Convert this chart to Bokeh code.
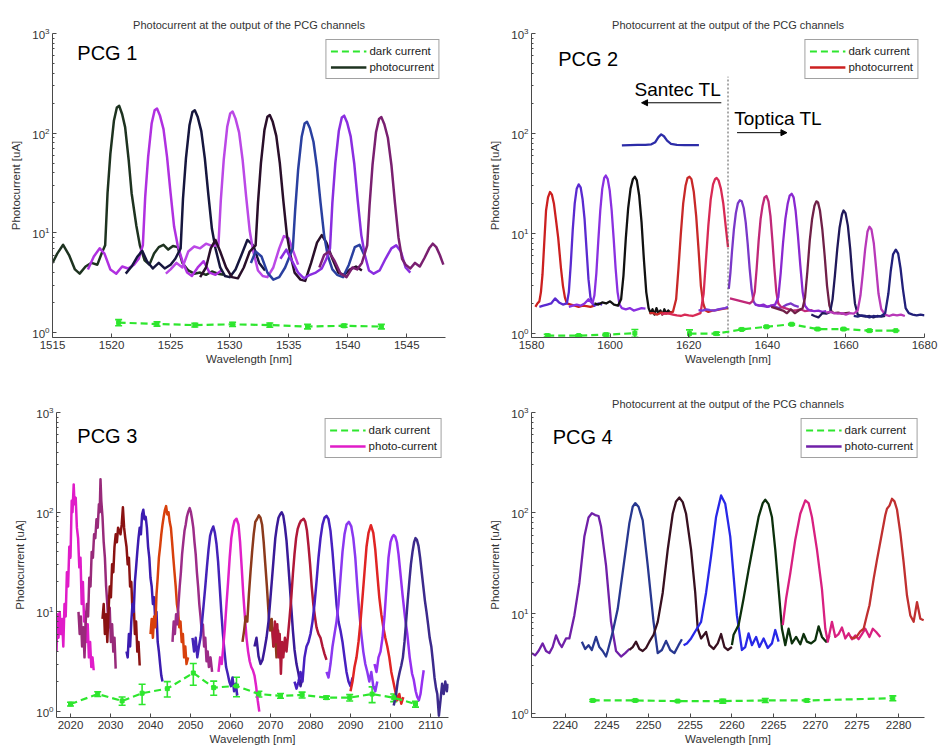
import numpy as np
from bokeh.plotting import figure
from bokeh.layouts import column, row
from bokeh.models import (ColumnDataSource, FixedTicker, Legend, LegendItem,
                          Whisker, TeeHead, Arrow, NormalHead, Label)
from bokeh.embed import file_html
from bokeh.resources import INLINE

# ---------------------------------------------------------------- data
# Each trace: list of (wavelength [nm], photocurrent [uA]) samples.

# PCG 1 (1515-1548 nm)
pcg1_traces = [
    [(1515.0,5.0),(1515.4,6.2),(1515.9,7.6),(1516.4,6.0),(1516.9,4.3),(1517.3,3.9),(1517.8,4.6),(1518.3,5.0),
     (1518.8,4.8),(1519.2,6.4),(1519.46,7.5),(1519.66,25),(1519.9,62),(1520.2,133),(1520.45,181),(1520.65,188),
     (1520.9,155),(1521.15,115),(1521.45,54),(1521.7,25),(1522.1,11.8),(1522.4,7.5),(1522.8,5.3),(1523.2,4.8),
     (1523.6,6.2),(1524.0,7.2),(1524.4,7.6),(1524.8,6.8),(1525.2,7.4),(1525.6,7.2),(1526.0,5.0),(1526.5,4.2),
     (1527.0,3.9),(1527.5,4.0),(1528.0,3.8),(1528.5,4.1),(1529.0,3.9),(1529.5,3.8)],
    [(1518.0,4.3),(1518.5,5.8),(1519.0,7.0),(1519.4,6.2),(1519.9,4.3),(1520.4,3.9),(1520.9,4.6),(1521.4,4.4),
     (1521.9,4.8),(1522.3,5.5),(1522.65,7.5),(1522.85,23),(1523.1,58),(1523.4,126),(1523.65,170),(1523.85,177),
     (1524.1,150),(1524.4,110),(1524.7,58),(1525.0,25),(1525.3,11.5),(1525.6,7.5),(1526.0,5.2),(1526.4,4.0),
     (1526.8,3.7),(1527.3,4.5),(1527.8,5.2),(1528.3,4.0),(1528.8,3.8),(1529.3,4.2)],
    [(1521.2,3.9),(1521.7,4.6),(1522.2,5.8),(1522.6,6.6),(1523.0,5.2),(1523.5,4.4),(1524.0,5.0),(1524.5,4.4),
     (1525.0,4.8),(1525.4,5.5),(1525.85,7.0),(1526.05,22),(1526.3,56),(1526.6,120),(1526.85,163),(1527.05,170),
     (1527.3,145),(1527.6,105),(1527.9,56),(1528.2,24),(1528.5,11),(1528.8,7.0),(1529.2,4.5),(1529.6,3.7),
     (1530.0,3.6),(1530.5,4.3),(1531.0,6.0),(1531.5,8.5),(1532.0,7.5),(1532.5,5.0),(1533.0,4.2)],
    [(1524.6,3.9),(1525.0,4.3),(1525.5,5.0),(1526.0,4.5),(1526.5,6.5),(1527.0,7.3),(1527.5,7.0),(1528.0,7.8),
     (1528.5,7.4),(1529.05,7.5),(1529.25,21),(1529.5,54),(1529.8,117),(1530.05,158),(1530.25,165),(1530.5,140),
     (1530.8,102),(1531.1,54),(1531.4,23),(1531.7,10.5),(1532.0,6.5),(1532.4,4.2),(1532.8,3.7),(1533.2,3.6),
     (1533.7,4.5),(1534.2,7.0),(1534.6,9.3),(1535.0,8.8),(1535.4,6.5),(1535.8,4.8)],
    [(1527.5,3.6),(1528.0,4.5),(1528.4,7.0),(1528.8,8.5),(1529.2,6.5),(1529.7,4.5),(1530.2,3.6),(1530.7,3.5),
     (1531.2,4.5),(1531.7,6.5),(1532.2,7.5),(1532.4,20),(1532.65,50),(1532.95,108),(1533.2,146),(1533.4,152),
     (1533.65,130),(1533.95,94),(1534.25,50),(1534.55,21),(1534.85,9.5),(1535.15,6.0),(1535.5,4.0),(1536.0,3.4),
     (1536.4,3.3),(1536.9,5.0),(1537.4,8.0),(1537.8,9.5),(1538.2,8.0),(1538.7,5.5),(1539.2,4.0),(1539.7,3.8),
     (1540.2,4.3),(1540.7,4.6),(1541.2,4.2)],
    [(1531.8,5.0),(1532.2,6.5),(1532.7,5.8),(1533.2,4.0),(1533.7,3.4),(1534.2,3.6),(1534.7,4.5),(1535.0,5.5),
     (1535.35,7.0),(1535.55,17),(1535.8,43),(1536.1,92),(1536.35,125),(1536.55,130),(1536.8,112),(1537.1,82),
     (1537.4,45),(1537.7,20),(1538.0,9.5),(1538.3,6.0),(1538.7,4.3),(1539.1,3.8),(1539.6,3.6),(1540.1,4.8),
     (1540.6,7.2),(1541.0,7.6),(1541.4,6.0)],
    [(1534.3,5.5),(1534.8,6.8),(1535.3,5.2),(1535.8,4.0),(1536.3,3.5),(1536.8,3.8),(1537.3,4.0),(1537.8,4.4),
     (1538.2,5.5),(1538.5,7.0),(1538.7,20),(1538.95,50),(1539.25,106),(1539.5,144),(1539.7,150),(1539.95,128),
     (1540.25,93),(1540.55,50),(1540.85,21),(1541.15,9.5),(1541.45,6.0),(1541.8,4.2),(1542.2,3.9),(1542.7,4.2),
     (1543.2,5.5),(1543.7,7.0),(1544.1,7.5),(1544.5,6.5),(1544.9,4.5),(1545.3,4.0)],
    [(1537.6,4.5),(1538.0,6.0),(1538.4,6.5),(1538.9,5.2),(1539.4,3.9),(1539.9,3.6),(1540.4,4.5),(1540.8,4.3),
     (1541.2,5.0),(1541.65,7.5),(1541.85,19),(1542.1,48),(1542.4,103),(1542.65,139),(1542.85,145),(1543.1,123),
     (1543.4,90),(1543.7,48),(1544.0,20),(1544.3,9.0),(1544.6,5.5),(1544.9,4.8),(1545.3,4.4),(1545.7,5.0),
     (1546.1,4.6),(1546.5,5.6),(1546.9,7.0),(1547.2,7.8),(1547.5,7.2),(1547.8,6.0),(1548.1,4.8)],
]
pcg1_dark_nm = [1520.6, 1523.85, 1527.05, 1530.25, 1533.4, 1536.6, 1539.7, 1542.85]
pcg1_dark_ua = [1.26, 1.22, 1.19, 1.21, 1.19, 1.15, 1.17, 1.15]
pcg1_dark_err = [0.09, 0.06, 0.05, 0.06, 0.06, 0.06, 0.04, 0.06]

# PCG 2 (1580-1680 nm): Santec laser below 1630 nm, Toptica laser above
pcg2_traces = [
    [(1581.0,1.85),(1581.5,2.0),(1582.0,2.1),(1582.4,2.6),(1582.8,3.9),(1583.2,7.5),(1583.7,17),(1584.2,23),
     (1584.7,26),(1585.2,24.5),(1585.7,20),(1586.2,14),(1586.8,9.0),(1587.5,4.5),(1588.0,3.0),(1588.5,2.3),
     (1589.0,2.0),(1590.0,1.95),(1591.0,1.9),(1592.0,1.85),(1593.0,1.9),(1594.0,1.88),(1595.0,1.85),(1596.0,1.9)],
    [(1582.0,1.85),(1583.0,1.9),(1584.0,1.95),(1585.0,2.0),(1586.0,2.25),(1587.0,2.05),(1588.0,1.95),(1589.0,2.0),
     (1589.5,2.6),(1590.0,5.0),(1590.5,11),(1591.0,20),(1591.5,28),(1592.0,31),(1592.5,29),(1593.0,22),
     (1593.5,14),(1594.0,7.0),(1594.5,3.5),(1595.0,2.3),(1595.5,2.0),(1596.0,1.9),(1597.0,2.0),(1598.0,1.95)],
    [(1589.5,1.85),(1590.5,1.9),(1591.5,1.95),(1592.5,1.9),(1593.5,2.0),(1594.5,2.2),(1595.5,2.0),(1596.0,2.4),
     (1596.5,4.0),(1597.0,8.5),(1597.5,17),(1598.0,28),(1598.5,36),(1598.9,38),(1599.4,35),(1599.9,27),
     (1600.4,17),(1600.9,9.0),(1601.4,4.5),(1601.9,2.6),(1602.4,1.95),(1603.0,1.8),(1604.0,1.75),(1605.0,1.8),
     (1606.0,1.7),(1607.0,1.75),(1608.0,1.8),(1609.0,1.78)],
    [(1596.0,2.0),(1597.0,1.95),(1598.0,2.05),(1599.0,2.0),(1600.0,2.1),(1601.0,1.95),(1602.0,1.9),(1602.8,2.2),
     (1603.4,3.8),(1604.0,9.0),(1604.6,18),(1605.2,28),(1605.8,35),(1606.3,37),(1606.8,34),(1607.4,24),
     (1608.0,13),(1608.6,5.5),(1609.2,2.6),(1609.8,1.8),(1610.3,1.6),(1610.8,1.75),(1611.3,1.55),(1611.8,1.8),
     (1612.3,1.6),(1612.8,1.7),(1613.3,1.55),(1613.8,1.75),(1614.3,1.6),(1614.8,1.7),(1615.3,1.62),(1615.8,1.65)],
    [(1610.0,1.6),(1611.0,1.6),(1612.0,1.55),(1613.0,1.62),(1614.0,1.58),(1615.0,1.6),(1616.0,1.65),(1616.8,2.2),
     (1617.4,4.5),(1618.0,10),(1618.6,20),(1619.2,30),(1619.7,36),(1620.2,37),(1620.7,35),(1621.3,26),
     (1621.9,15),(1622.5,7.0),(1623.1,3.0),(1623.7,2.0),(1624.3,1.7),(1625.0,1.65),(1626.0,1.7),(1627.0,1.72),
     (1628.0,1.75),(1629.0,1.78),(1630.0,1.8)],
    [(1613.0,1.55),(1614.0,1.6),(1615.0,1.58),(1616.0,1.55),(1617.0,1.52),(1618.0,1.5),(1619.0,1.55),(1620.0,1.52),
     (1621.0,1.5),(1622.0,1.55),(1623.0,1.6),(1623.8,2.5),(1624.4,5.5),(1625.0,12),(1625.6,22),(1626.2,31),
     (1626.7,35),(1627.1,36),(1627.6,34),(1628.2,28),(1628.8,20),(1629.4,12),(1630.0,7.3)],
    [(1622.5,1.72),(1623.5,1.7),(1624.5,1.75),(1625.5,1.72),(1626.5,1.7),(1627.5,1.75),(1628.5,1.78),(1629.3,1.8),
     (1630.0,1.85)],
    [(1603.0,76),(1605.0,76.5),(1607.0,77),(1609.0,77),(1610.5,78),(1611.5,82),(1612.3,92),(1613.0,98),
     (1613.7,94),(1614.5,85),(1615.5,79),(1617.0,77),(1619.0,76.5),(1621.0,76.5),(1622.6,76.5)],
    [(1630.2,2.8),(1630.6,4.0),(1631.0,6.5),(1631.5,11),(1632.0,16),(1632.5,20),(1633.0,21.5),(1633.5,21),
     (1634.0,18),(1634.5,13),(1635.0,8.0),(1635.5,4.5),(1636.0,2.8),(1636.5,2.1),(1637.0,1.95),(1638.0,1.9),
     (1639.0,1.88),(1640.0,1.85),(1641.0,1.9),(1642.0,1.85),(1643.0,1.8),(1644.0,1.85),(1645.0,1.95),(1646.0,2.0),
     (1647.0,1.9),(1648.0,1.85)],
    [(1630.5,2.25),(1631.5,2.2),(1632.5,2.15),(1633.5,2.1),(1634.5,2.05),(1635.5,2.0),(1636.2,2.1),(1636.8,2.6),
     (1637.3,4.5),(1637.8,8.5),(1638.3,14),(1638.8,19),(1639.3,23),(1639.8,23.7),(1640.3,21),(1640.8,15),
     (1641.3,8.5),(1641.8,4.5),(1642.3,2.6),(1642.8,2.0),(1643.5,1.85),(1644.5,1.8),(1645.5,1.75),(1646.5,1.7),
     (1647.5,1.72),(1648.5,1.75),(1649.5,1.68),(1650.5,1.7),(1651.5,1.72)],
    [(1637.0,1.95),(1638.0,1.9),(1639.0,1.95),(1640.0,1.85),(1641.0,1.9),(1642.0,1.95),(1642.8,2.3),(1643.4,4.0),
     (1644.0,8.0),(1644.6,14),(1645.2,20),(1645.7,24),(1646.2,25),(1646.7,23),(1647.2,17),(1647.8,9.5),
     (1648.4,4.8),(1649.0,2.6),(1649.6,1.9),(1650.3,1.75),(1651.0,1.7),(1652.0,1.68),(1653.0,1.7),(1654.0,1.65),
     (1655.0,1.68)],
    [(1641.0,1.85),(1642.0,1.8),(1643.0,1.75),(1644.0,1.7),(1645.0,1.6),(1646.0,1.75),(1647.0,1.6),(1648.0,1.7),
     (1649.0,1.8),(1649.6,2.3),(1650.2,4.2),(1650.8,8.5),(1651.4,14),(1652.0,19),(1652.5,21),(1652.9,20.5),
     (1653.4,17),(1654.0,11),(1654.6,6.0),(1655.2,3.0),(1655.8,1.9),(1656.4,1.65),(1657.0,1.6),(1658.0,1.62),
     (1659.0,1.58),(1660.0,1.6),(1661.0,1.62)],
    [(1651.2,1.55),(1652.0,1.5),(1653.0,1.45),(1654.0,1.6),(1655.0,1.58),(1656.0,1.65),(1656.6,2.2),(1657.2,3.8),
     (1657.8,7.0),(1658.4,11.5),(1659.0,15.5),(1659.4,17),(1659.9,16),(1660.5,12),(1661.1,7.0),(1661.7,3.5),
     (1662.3,2.0),(1663.0,1.55),(1664.0,1.5),(1665.0,1.48),(1666.0,1.5),(1667.0,1.45),(1668.0,1.5),(1669.0,1.48),
     (1670.0,1.5)],
    [(1655.0,1.62),(1656.0,1.65),(1657.0,1.6),(1658.0,1.58),(1659.0,1.6),(1660.0,1.55),(1661.0,1.6),(1662.0,1.58),
     (1663.0,1.7),(1663.7,2.4),(1664.3,4.0),(1664.9,7.0),(1665.5,10.5),(1666.0,11.7),(1666.5,11),(1667.1,8.0),
     (1667.7,4.5),(1668.3,2.5),(1669.0,1.75),(1670.0,1.55),(1671.0,1.5),(1672.0,1.55),(1673.0,1.52),(1674.0,1.55),
     (1675.0,1.5)],
    [(1662.0,1.5),(1663.0,1.48),(1664.0,1.52),(1665.0,1.5),(1666.0,1.45),(1667.0,1.5),(1668.0,1.48),(1669.0,1.5),
     (1670.0,1.6),(1670.8,2.5),(1671.4,4.2),(1672.0,6.2),(1672.7,6.9),(1673.3,6.3),(1673.9,4.5),(1674.5,2.8),
     (1675.2,1.8),(1676.0,1.6),(1677.0,1.55),(1678.0,1.52),(1679.0,1.55),(1680.0,1.52)],
]
pcg2_dark_nm = [1584.0, 1592.0, 1599.0, 1606.3, 1613.0, 1620.2, 1627.1, 1633.5, 1639.8, 1646.2, 1652.8, 1659.4, 1666.0, 1672.7]
pcg2_dark_ua = [0.955, 0.955, 0.975, 1.01, np.nan, 1.0, 1.0, 1.1, 1.17, 1.24, 1.11, 1.11, 1.07, 1.07]
pcg2_dark_err = [0.03, 0.02, 0.03, 0.09, np.nan, 0.09, 0.03, 0.02, 0.02, 0.02, 0.02, 0.02, 0.02, 0.0]
laser_switch_nm = 1630.0

# PCG 3 (2016-2115 nm)
pcg3_traces = [
    [(2016.5,4.0),(2016.7,9.5),(2017.0,5.5),(2017.3,10),(2017.6,6.0),(2017.9,8.5),(2018.2,4.5),(2018.5,12),
     (2018.8,9.0),(2019.1,25),(2019.4,18),(2019.7,45),(2020.0,35),(2020.3,130),(2020.5,100),(2020.8,190),
     (2021.0,120),(2021.3,140),(2021.6,70),(2021.9,55),(2022.2,28),(2022.5,35),(2022.8,12),(2023.1,20),
     (2023.4,8.0),(2023.7,10),(2024.0,5.0),(2024.3,7.5),(2024.6,3.5),(2024.9,5.0),(2025.2,2.8),(2025.5,3.5),(2025.8,2.6)],
    [(2022.0,10),(2022.3,6.0),(2022.6,9.0),(2022.9,4.5),(2023.2,7.0),(2023.5,3.5),(2023.8,8.0),(2024.1,12),
     (2024.4,9.0),(2024.7,22),(2025.0,18),(2025.3,40),(2025.6,35),(2025.9,60),(2026.2,55),(2026.5,85),
     (2026.8,70),(2027.1,120),(2027.3,100),(2027.5,214),(2027.7,130),(2028.0,90),(2028.3,50),(2028.6,35),
     (2028.9,18),(2029.2,12),(2029.5,7.0),(2029.8,11),(2030.1,5.0),(2030.4,7.5),(2030.7,4.0),(2031.0,5.5),(2031.3,2.7)],
    [(2028.0,8.5),(2028.3,12),(2028.6,6.0),(2028.9,9.5),(2029.2,5.0),(2029.5,10),(2029.8,18),(2030.1,14),
     (2030.4,30),(2030.7,25),(2031.0,45),(2031.3,60),(2031.6,50),(2031.9,70),(2032.2,65),(2032.5,60),
     (2032.8,75),(2033.1,112),(2033.4,70),(2033.7,55),(2034.0,45),(2034.3,30),(2034.6,35),(2034.9,18),
     (2035.2,20),(2035.5,10),(2035.8,12),(2036.1,6.0),(2036.4,8.0),(2036.7,4.0),(2037.0,5.0),(2037.3,2.9)],
    [(2034.0,4.0),(2034.3,3.5),(2034.6,6.0),(2034.9,4.5),(2035.2,8.0),(2035.5,12),(2035.8,10),(2036.1,20),
     (2036.4,28),(2036.7,40),(2037.0,55),(2037.3,70),(2037.6,60),(2037.9,95),(2038.2,106),(2038.5,85),
     (2038.8,90),(2039.1,70),(2039.4,45),(2039.7,35),(2040.0,22),(2040.3,18),(2040.6,12),(2040.9,14),
     (2041.2,8.0),(2041.5,10),(2041.8,5.0),(2042.1,4.0),(2042.4,3.0),(2042.7,2.3),(2043.0,2.0)],
    [(2040.0,6.0),(2040.3,8.5),(2040.6,5.5),(2040.9,9.0),(2041.2,7.0),(2041.5,15),(2041.8,22),(2042.1,35),
     (2042.4,45),(2042.7,60),(2043.0,75),(2043.3,90),(2043.6,105),(2043.9,115),(2044.2,95),(2044.5,100),
     (2044.8,80),(2045.1,70),(2045.4,50),(2045.7,35),(2046.0,25),(2046.3,18),(2046.6,12),(2046.9,10),
     (2047.2,7.0),(2047.5,8.0),(2047.8,5.0),(2048.1,6.0),(2048.4,3.5),(2048.7,4.5),(2049.0,3.0),(2049.4,3.5)],
    [(2045.5,5.0),(2045.8,8.0),(2046.1,6.0),(2046.4,9.5),(2046.7,7.5),(2047.0,12),(2047.3,18),(2047.6,25),
     (2047.9,38),(2048.2,50),(2048.5,65),(2048.8,75),(2049.1,90),(2049.4,100),(2049.8,110),(2050.1,100),
     (2050.4,85),(2050.7,70),(2051.0,50),(2051.3,38),(2051.6,25),(2051.9,18),(2052.2,12),(2052.5,9.0),
     (2052.8,6.5),(2053.1,7.5),(2053.4,4.5),(2053.7,5.5),(2054.0,3.2),(2054.3,4.0),(2054.6,2.8),(2055.0,3.5),(2055.4,2.5)],
    [(2050.5,5.5),(2050.9,4.0),(2051.3,5.5),(2051.7,3.5),(2052.1,4.5),(2052.5,5.5),(2052.9,8.0),(2053.3,12),
     (2053.7,18),(2054.1,28),(2054.5,42),(2054.9,58),(2055.3,66),(2055.7,72),(2056.1,62),(2056.5,48),
     (2056.9,32),(2057.3,18),(2057.7,10),(2058.1,6.0),(2058.5,4.0),(2058.9,2.8),(2059.3,2.4),(2059.7,2.0),
     (2060.1,1.8),(2060.5,2.2),(2060.9,1.6),(2061.3,1.9),(2061.7,1.45)],
    [(2057.0,2.5),(2057.4,3.5),(2057.8,3.0),(2058.2,4.5),(2058.6,7.0),(2059.0,12),(2059.4,20),(2059.8,35),
     (2060.2,55),(2060.6,70),(2061.0,82),(2061.5,86),(2062.0,75),(2062.4,50),(2062.8,28),(2063.2,15),
     (2063.6,9.0),(2064.0,5.5),(2064.4,4.0),(2064.8,3.2),(2065.2,2.8),(2065.6,2.6),(2066.0,2.3),(2066.4,1.8),
     (2066.8,1.3),(2067.2,1.0)],
    [(2063.0,5.0),(2063.4,6.5),(2063.8,9.0),(2064.2,8.0),(2064.6,15),(2065.0,25),(2065.4,40),(2065.8,60),
     (2066.2,80),(2066.6,85),(2067.1,93),(2067.5,88),(2067.9,75),(2068.3,50),(2068.7,30),(2069.1,18),
     (2069.5,10),(2069.9,6.5),(2070.3,8.5),(2070.7,4.5),(2071.1,7.0),(2071.5,3.5),(2071.9,6.5),(2072.3,4.0)],
    [(2066.0,4.5),(2066.5,5.5),(2067.0,3.6),(2067.5,3.0),(2068.0,3.3),(2068.5,4.2),(2069.0,5.5),(2069.5,8.0),
     (2070.0,14),(2070.4,22),(2070.8,35),(2071.2,55),(2071.6,72),(2072.0,88),(2072.4,95),(2072.8,100),
     (2073.2,92),(2073.6,72),(2074.0,52),(2074.4,32),(2074.8,19),(2075.2,11),(2075.6,6.5),(2076.0,4.2),
     (2076.5,3.0),(2077.0,2.4),(2077.5,1.8),(2078.0,2.2)],
    [(2070.5,6.5),(2070.8,4.5),(2071.1,8.0),(2071.4,5.0),(2071.7,7.5),(2072.0,3.5),(2072.3,6.0),(2072.6,2.4),
     (2072.9,5.0),(2073.2,3.5),(2073.6,5.5),(2074.0,4.0),(2074.4,6.0),(2074.8,9.0),(2075.2,14),(2075.6,24),
     (2076.0,38),(2076.4,55),(2076.8,68),(2077.2,76),(2077.6,82),(2078.0,84),(2078.3,86),(2078.7,80),
     (2079.1,66),(2079.5,46),(2079.9,30),(2080.3,18),(2080.7,12),(2081.1,9.0),(2081.5,7.0),(2082.0,6.0),
     (2082.5,5.5),(2083.0,4.5),(2083.5,3.8),(2084.0,3.3)],
    [(2076.0,2.0),(2076.5,1.7),(2077.0,2.0),(2077.5,2.5),(2078.0,2.0),(2078.5,3.5),(2079.0,4.5),(2079.5,5.0),
     (2080.0,6.0),(2080.5,8.0),(2081.0,12),(2081.5,20),(2082.0,35),(2082.5,55),(2083.0,75),(2083.5,88),
     (2084.0,92),(2084.5,85),(2085.0,65),(2085.5,40),(2086.0,22),(2086.5,12),(2087.0,8.0),(2087.5,6.5),
     (2088.0,5.0),(2088.5,3.5),(2089.0,2.5),(2089.5,2.0),(2090.0,1.8),(2090.5,2.2)],
    [(2084.0,2.5),(2084.5,2.2),(2085.0,3.0),(2085.5,4.5),(2086.0,6.0),(2086.5,8.0),(2087.0,12),(2087.5,22),
     (2088.0,40),(2088.5,60),(2089.0,75),(2089.6,80),(2090.2,72),(2090.7,55),(2091.2,35),(2091.7,18),
     (2092.2,10),(2092.7,6.0),(2093.2,4.0),(2093.7,3.0),(2094.2,2.5),(2094.7,2.0),(2095.2,2.5),(2095.7,1.8),
     (2096.2,1.6),(2096.7,2.0)],
    [(2090.0,1.6),(2090.5,2.0),(2091.0,2.8),(2091.5,3.5),(2092.0,5.0),(2092.5,8.0),(2093.0,14),(2093.5,25),
     (2094.0,45),(2094.5,62),(2095.1,74),(2095.7,62),(2096.2,42),(2096.7,24),(2097.2,14),(2097.7,9.5),
     (2098.2,7.0),(2098.7,5.5),(2099.2,4.5),(2099.7,3.5),(2100.2,2.5),(2100.7,2.0),(2101.2,1.6),(2101.7,1.3),
     (2102.2,1.5),(2102.7,1.2),(2103.2,1.4)],
    [(2096.0,3.0),(2096.5,2.5),(2097.0,3.5),(2097.5,4.0),(2098.0,5.5),(2098.5,9.0),(2099.0,18),(2099.5,35),
     (2100.0,50),(2100.4,56),(2100.8,59),(2101.2,57),(2101.6,50),(2102.0,38),(2102.5,24),(2103.0,15),
     (2103.6,9.0),(2104.2,6.0),(2104.8,3.5),(2105.4,2.4),(2105.8,2.1),(2106.3,1.6),(2106.7,1.4),(2107.1,1.3),
     (2107.5,1.5),(2107.9,2.0),(2108.3,2.6)],
    [(2100.8,1.15),(2101.3,1.4),(2101.8,2.0),(2102.3,2.5),(2102.7,2.9),(2103.1,3.5),(2103.5,5.0),(2103.9,8.0),
     (2104.3,13),(2104.7,20),(2105.1,30),(2105.5,40),(2105.9,50),(2106.25,55),(2106.6,53),(2107.0,46),
     (2107.4,35),(2107.8,25),(2108.2,18),(2108.6,13),(2109.0,10),(2109.4,7.5),(2109.8,5.5),(2110.2,4.5),
     (2110.6,3.2),(2111.0,2.2),(2111.4,1.7),(2111.7,1.5),(2112.1,0.91),(2112.5,1.3),(2112.9,1.9),(2113.3,1.5),
     (2113.7,2.0),(2114.1,1.6),(2114.5,1.9)],
]
pcg3_dark_nm = [2020.0, 2026.8, 2032.9, 2037.9, 2044.2, 2050.7, 2055.8, 2061.5, 2067.1, 2072.5, 2077.9, 2084.0, 2089.8, 2095.4, 2100.8, 2106.25]
pcg3_dark_ua = [1.19, 1.50, 1.28, 1.53, 1.70, 2.44, 1.74, 1.81, 1.50, 1.44, 1.47, 1.38, 1.38, 1.50, 1.38, 1.19]
pcg3_dark_err = [0.05, 0.08, 0.12, 0.35, 0.30, 0.60, 0.28, 0.40, 0.10, 0.08, 0.10, 0.05, 0.10, 0.27, 0.12, 0.08]

# PCG 4 (2236-2283 nm)
pcg4_traces = [
    [(2236.0,4.0),(2236.4,3.8),(2236.8,4.2),(2237.3,5.0),(2237.7,4.2),(2238.1,4.0),(2238.5,4.6),(2238.9,6.0),
     (2239.3,5.0),(2239.6,4.6),(2240.1,5.6),(2240.5,5.6),(2241.1,9.5),(2241.7,20),(2242.3,58),(2242.8,90),
     (2243.2,99),(2243.6,95),(2244.0,93),(2244.3,73),(2244.9,30),(2245.5,8.2),(2246.1,4.2),(2246.7,3.7),
     (2247.2,4.0),(2247.7,4.4)],
    [(2242.0,5.2),(2242.4,4.4),(2242.8,4.8),(2243.2,4.3),(2243.7,5.8),(2244.1,4.6),(2244.5,4.2),(2244.9,3.7),
     (2245.1,4.2),(2245.7,6.5),(2246.3,11),(2247.1,34),(2247.7,79),(2248.1,115),(2248.4,125),(2248.8,115),
     (2249.3,84),(2249.9,30),(2250.6,8.2),(2251.1,4.0),(2251.6,4.3),(2252.1,5.3),(2252.6,4.3),(2253.1,4.0),
     (2253.6,4.8),(2254.0,5.5)],
    [(2247.7,4.3),(2248.1,4.6),(2248.5,5.2),(2248.9,4.4),(2249.3,4.2),(2249.7,4.5),(2250.1,5.2),(2250.6,6.1),
     (2251.1,8.2),(2251.7,16),(2252.3,43),(2252.9,98),(2253.3,130),(2253.7,142),(2254.1,128),(2254.5,98),
     (2255.1,43),(2255.6,16),(2255.9,7.0),(2256.3,5.6),(2256.9,6.5),(2257.3,4.8),(2257.8,4.4),(2258.3,5.0),
     (2258.7,6.2),(2259.1,4.6),(2259.5,4.3),(2260.0,4.6)],
    [(2254.2,4.8),(2254.6,5.0),(2255.1,5.6),(2255.7,6.8),(2256.3,8.2),(2256.9,16),(2257.5,37),(2258.1,91),
     (2258.7,149),(2259.2,123),(2259.8,58),(2260.2,23.5),(2260.6,9.5),(2261.2,4.3),(2261.6,4.6),(2262.0,6.3),
     (2262.4,4.8),(2262.9,5.8),(2263.3,4.6),(2263.8,5.6),(2264.3,4.5),(2264.8,5.0),(2265.2,6.8),(2265.6,5.2)],
    [(2260.0,4.8),(2260.2,6.1),(2260.8,7.6),(2261.4,14),(2262.0,27),(2262.6,50),(2263.2,91),(2263.7,125),
     (2264.0,135),(2264.4,122),(2264.8,91),(2265.2,43),(2265.6,17.4),(2266.0,7.0),(2266.4,4.8),(2266.8,7.0),
     (2267.2,5.0),(2267.7,5.8),(2268.2,4.9),(2268.6,6.2),(2269.0,5.2),(2269.5,5.0),(2270.0,5.4),(2270.4,7.4),
     (2270.8,5.8),(2271.3,5.2),(2271.7,6.0)],
    [(2266.1,7.6),(2266.5,14),(2267.0,25),(2267.6,54),(2268.2,98),(2268.8,133),(2269.2,125),(2269.6,91),
     (2270.2,43),(2270.8,17.4),(2271.2,7.0),(2271.5,5.2),(2272.0,8.2),(2272.4,5.8),(2272.8,6.2),(2273.2,7.2),
     (2273.6,5.6),(2274.0,6.3),(2274.4,5.5),(2274.8,6.0),(2275.2,5.5),(2275.6,6.2),(2276.0,7.0),(2276.5,5.8),
     (2276.9,7.0),(2277.3,6.5),(2277.8,5.8)],
    [(2274.2,5.8),(2274.6,5.6),(2275.0,5.9),(2275.4,6.6),(2275.8,7.0),(2276.2,9.6),(2276.5,12),(2277.0,22),
     (2277.4,34),(2278.0,63),(2278.4,95),(2278.6,110),(2278.9,118),(2279.2,138),(2279.5,130),(2279.8,108),
     (2280.2,63),(2280.6,32),(2281.0,15),(2281.4,9.5),(2281.8,8.2),(2282.2,12.9),(2282.6,8.8),(2283.0,8.5)],
]
pcg4_dark_nm = [2243.3, 2248.4, 2253.5, 2258.9, 2264.0, 2269.0, 2279.3]
pcg4_dark_ua = [1.35, 1.35, 1.33, 1.33, 1.35, 1.35, 1.42]
pcg4_dark_err = [0.03, 0.03, 0.02, 0.06, 0.06, 0.04, 0.08]

# ---------------------------------------------------------------- style
FONT = "Liberation Sans"
INK = "#333333"
AXIS = "#4a4a4a"
GREEN = "#2ee62e"
TITLE = "Photocurrent at the output of the PCG channels"

pcg1_colors = ["#1e3320", "#b030e0", "#16163e", "#bb48e6", "#2a0f2a", "#2a40a0", "#8a2ee0", "#7a2070"]
pcg2_colors = ["#cc2020", "#5a2ad0", "#8a30e0", "#111111", "#c82828", "#d82a55", "#7a3ad8", "#2c2ca8",
               "#7a38c8", "#c02878", "#8a28d0", "#702048", "#20185a", "#b838b8", "#22207a"]
pcg3_colors = ["#e01cc8", "#982a7a", "#8a1212", "#3c1cb0", "#d8400c", "#9c2c88", "#4422b8", "#e020c8",
               "#8c3a1c", "#3a1a98", "#b01838", "#4820c0", "#8a38f0", "#e02424", "#9630f0", "#3c2a8c"]
pcg4_colors = ["#7020a8", "#283890", "#381020", "#2828e8", "#0c300c", "#d82080", "#c03030"]


def make_panel(x_range, y_range, xticks, width, height, borders, title):
    left, right, top, bottom = borders
    p = figure(width=width, height=height, x_range=x_range, y_range=y_range,
               y_axis_type="log", output_backend="svg", toolbar_location=None,
               min_border_left=left, min_border_right=right,
               min_border_top=top, min_border_bottom=bottom,
               background_fill_color="white", border_fill_color="white")
    if title:
        p.title.text = title
        p.title.align = "center"
        p.title.text_font = FONT
        p.title.text_font_size = "11px"
        p.title.text_font_style = "normal"
        p.title.text_color = INK
        p.title.standoff = 5
    p.outline_line_color = None
    p.grid.grid_line_color = None
    for ax in (p.xaxis[0], p.yaxis[0]):
        ax.axis_line_color = AXIS
        ax.major_tick_line_color = AXIS
        ax.minor_tick_line_color = AXIS
        ax.major_tick_in = 4
        ax.major_tick_out = 0
        ax.minor_tick_in = 2
        ax.minor_tick_out = 0
        ax.major_label_text_font = FONT
        ax.major_label_text_font_size = "11.5px"
        ax.major_label_text_color = INK
        ax.axis_label_text_font = FONT
        ax.axis_label_text_font_size = "11.5px"
        ax.axis_label_text_font_style = "normal"
        ax.axis_label_text_color = INK
    p.xaxis.ticker = FixedTicker(ticks=xticks)
    p.xaxis.minor_tick_line_color = None
    p.xaxis.major_label_standoff = 3
    p.xaxis.axis_label_standoff = 1
    p.xaxis.axis_label = "Wavelength [nm]"
    minors = [m * 10.0 ** e for e in range(0, 3) for m in range(2, 10)]
    p.yaxis.ticker = FixedTicker(ticks=[1, 10, 100, 1000], minor_ticks=minors)
    p.yaxis.major_label_standoff = 3
    p.yaxis.axis_label_standoff = 7
    p.yaxis.axis_label = "Photocurrent [uA]"
    return p


def draw_traces(p, traces, colors, lw):
    rends = []
    for tr, col in zip(traces, colors):
        wl = [t[0] for t in tr]
        ua = [t[1] for t in tr]
        rends.append(p.line(wl, ua, line_color=col, line_width=lw, line_join="round"))
    return rends


def draw_dark(p, wl, ua, err):
    wl = np.asarray(wl, dtype=float)
    ua = np.asarray(ua, dtype=float)
    err = np.asarray(err, dtype=float)
    line = p.line(wl, ua, line_color=GREEN, line_width=2.2, line_dash="7 4")
    ok = ~np.isnan(ua)
    src = ColumnDataSource(dict(x=wl[ok], y=ua[ok], lo=(ua - err)[ok], hi=(ua + err)[ok]))
    p.add_layout(Whisker(source=src, base="x", lower="lo", upper="hi", dimension="height",
                         line_color=GREEN, line_width=1.6,
                         upper_head=TeeHead(size=7, line_color=GREEN, line_width=1.6),
                         lower_head=TeeHead(size=7, line_color=GREEN, line_width=1.6)))
    p.scatter("x", "y", source=src, marker="square", size=4, color=GREEN)
    return line


def add_legend(p, dark_r, photo_r, photo_label):
    leg = Legend(items=[LegendItem(label="dark current", renderers=[dark_r]),
                        LegendItem(label=photo_label, renderers=[photo_r])],
                 location="top_right", margin=6, padding=4, spacing=2,
                 glyph_width=36, glyph_height=14, label_height=14, label_standoff=3,
                 label_text_font=FONT, label_text_font_size="11.5px", label_text_color="#222222",
                 border_line_color="#444444", border_line_width=1,
                 background_fill_color="white", background_fill_alpha=1.0)
    p.add_layout(leg)


def add_tag(p, x, y, text, size="20px"):
    p.add_layout(Label(x=x, y=y, text=text, text_font=FONT, text_font_size=size,
                       text_baseline="middle", text_align="left", text_color="black"))


# ---------------------------------------------------------------- panels
p1 = make_panel((1515.0, 1548.28), (0.893, 1000), list(range(1515, 1546, 5)), 469, 377, (52, 24, 33, 35), TITLE)
r1 = draw_traces(p1, pcg1_traces, pcg1_colors, 2.5)
d1 = draw_dark(p1, pcg1_dark_nm, pcg1_dark_ua, pcg1_dark_err)
add_legend(p1, d1, r1[0], "photocurrent")
add_tag(p1, 1517.1, 637, "PCG 1")

p2 = make_panel((1580.0, 1680.0), (0.914, 1000), list(range(1580, 1681, 20)), 469, 377, (62, 14, 28, 40), TITLE)
r2 = draw_traces(p2, pcg2_traces, pcg2_colors, 2.3)
p2.line([laser_switch_nm, laser_switch_nm], [0.914, 370], line_color="#555555", line_width=1, line_dash="2 2")
d2 = draw_dark(p2, pcg2_dark_nm, pcg2_dark_ua, pcg2_dark_err)
add_legend(p2, d2, r2[0], "photocurrent")
add_tag(p2, 1586.8, 556, "PCG 2")
add_tag(p2, 1606.2, 276, "Santec TL", "19px")
add_tag(p2, 1631.6, 140, "Toptica TL", "19px")
p2.add_layout(Arrow(end=NormalHead(size=6, fill_color="black", line_color="black", line_width=1),
                    x_start=1628.3, y_start=203, x_end=1608.0, y_end=203,
                    line_color="black", line_width=1))
p2.add_layout(Arrow(end=NormalHead(size=6, fill_color="black", line_color="black", line_width=1),
                    x_start=1632.3, y_start=102, x_end=1645.0, y_end=102,
                    line_color="black", line_width=1))

p3 = make_panel((2016.5, 2114.5), (0.873, 1000), list(range(2020, 2111, 10)), 469, 376, (56, 21, 35, 31), None)
r3 = draw_traces(p3, pcg3_traces, pcg3_colors, 2.5)
d3 = draw_dark(p3, pcg3_dark_nm, pcg3_dark_ua, pcg3_dark_err)
add_legend(p3, d3, r3[0], "photo-current")
add_tag(p3, 2021.7, 581, "PCG 3")

p4 = make_panel((2235.96, 2283.1), (0.913, 1000), list(range(2240, 2281, 5)), 469, 376, (62, 14, 31, 36), TITLE)
r4 = draw_traces(p4, pcg4_traces, pcg4_colors, 2.3)
d4 = draw_dark(p4, pcg4_dark_nm, pcg4_dark_ua, pcg4_dark_err)
add_legend(p4, d4, r4[0], "photo-current")
add_tag(p4, 2238.5, 572, "PCG 4")

layout = column(row(p1, p2, spacing=0), row(p3, p4, spacing=0), spacing=0)
open("out.html", "w").write(file_html(layout, INLINE))
